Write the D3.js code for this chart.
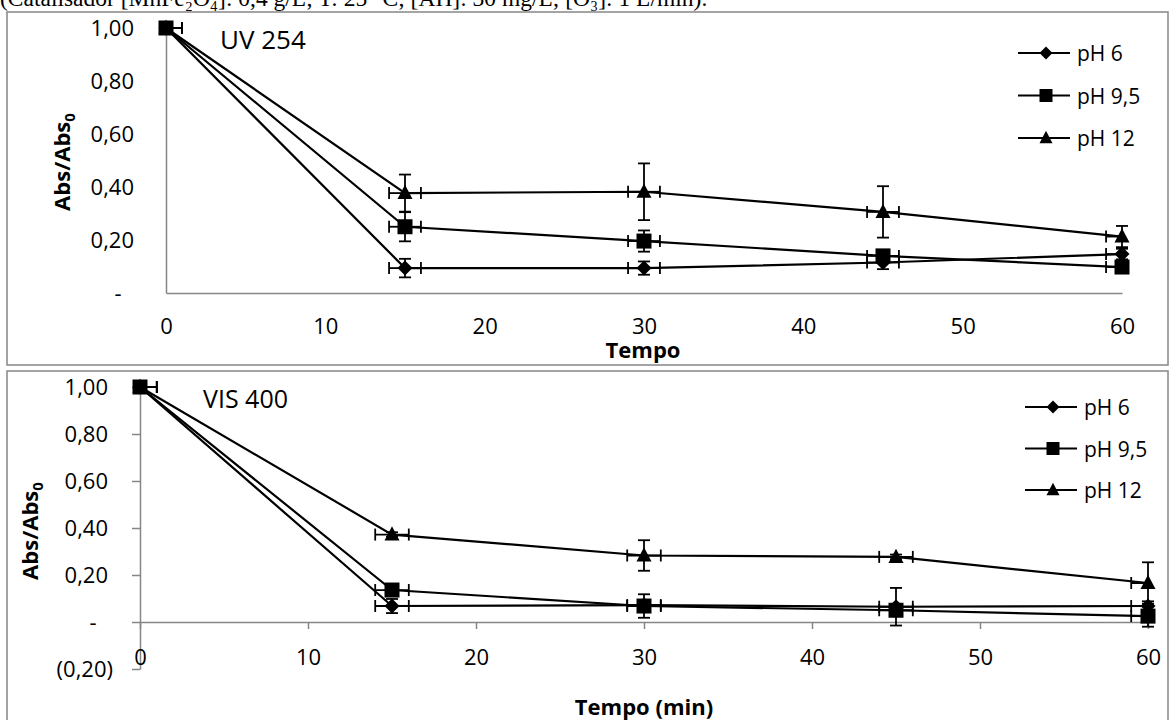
<!DOCTYPE html>
<html>
<head>
<meta charset="utf-8">
<script src="https://cdn.jsdelivr.net/npm/d3@7/dist/d3.min.js"></script>
<style>
  html, body { margin: 0; padding: 0; background: #fff; }
  svg { display: block; }
  text { font-family: "Open Sans", "Noto Sans", sans-serif; fill: #000; }
</style>
</head>
<body>
<svg id="fig" width="1171" height="720"></svg>
<script>
// Sampling times (min)
const times = [0, 15, 30, 45, 60];
const seriesNames = ["pH 6", "pH 9,5", "pH 12"];
const seriesShapes = ["diamond", "square", "triangle"];

// UV 254 — relative absorbance
const uvPH6  = [1.00, 0.094, 0.094, 0.115, 0.147];
const uvPH95 = [1.00, 0.250, 0.196, 0.140, 0.098];
const uvPH12 = [1.00, 0.377, 0.382, 0.306, 0.213];
const uvErrPH6  = [0, 0.035, 0.025, 0.025, 0.020];
const uvErrPH95 = [0, 0.055, 0.040, 0.020, 0.015];
const uvErrPH12 = [0, 0.070, 0.107, 0.097, 0.040];

// VIS 400 — relative absorbance
const visPH6  = [1.00, 0.068, 0.072, 0.065, 0.068];
const visPH95 = [1.00, 0.136, 0.068, 0.050, 0.025];
const visPH12 = [1.00, 0.372, 0.283, 0.277, 0.166];
const visErrPH6  = [0, 0.030, 0.020, 0.080, 0.020];
const visErrPH95 = [0, 0.020, 0.050, 0.020, 0.045];
const visErrPH12 = [0, 0.010, 0.065, 0.010, 0.088];

// time uncertainty (min)
const timeErr = [1, 1, 1, 1, 1];

// axis ticks
const xTicks = [0, 10, 20, 30, 40, 50, 60];
const uvYTicks = [0, 0.2, 0.4, 0.6, 0.8, 1.0];
const visYTicks = [-0.2, 0, 0.2, 0.4, 0.6, 0.8, 1.0];

const headerText = "(Catalisador [MnFe₂O₄]: 0,4 g/L; T: 25 °C; [AH]: 30 mg/L; [O₃]: 1 L/min).";

const svg = d3.select("#fig");
const AXIS = "#868686";

// caption line above the figure
svg.append("text")
  .attr("x", 0).attr("y", 6)
  .style("font-family", "'Liberation Serif', 'Times New Roman', serif")
  .style("font-size", "23.5px")
  .text(headerText);

function fmtTick(v) {
  if (Math.abs(v) < 1e-9) return "-";
  const s = d3.format(".2f")(Math.abs(v)).replace(".", ",");
  return v < 0 ? "(" + s + ")" : s;
}

function markerPath(shape, r) {
  if (shape === "diamond") return `M0,${-r}L${r},0L0,${r}L${-r},0Z`;
  if (shape === "square") return `M${-r},${-r}H${r}V${r}H${-r}Z`;
  const h = r * 1.9;
  return `M0,${-h * 0.58}L${r},${h * 0.42}L${-r},${h * 0.42}Z`;
}

function panel(cfg) {
  const g = svg.append("g");

  // chart frame
  g.append("rect")
    .attr("x", cfg.box[0]).attr("y", cfg.box[1])
    .attr("width", cfg.box[2]).attr("height", cfg.box[3])
    .attr("fill", "#fff").attr("stroke", AXIS).attr("stroke-width", 1.5);

  const x = d3.scaleLinear().domain([0, 60]).range(cfg.xRange);
  const y = d3.scaleLinear().domain(cfg.yDomain).range(cfg.yRange);

  // y axis
  const ya = g.append("g")
    .attr("transform", `translate(${x(0)},0)`)
    .call(d3.axisLeft(y).tickValues(cfg.yTicks).tickFormat(fmtTick)
      .tickSize(cfg.yTickSize).tickSizeOuter(0).tickPadding(cfg.yPad));
  ya.select(".domain").attr("stroke", AXIS).attr("stroke-width", 1.5);
  ya.selectAll(".tick line").attr("stroke", AXIS).attr("stroke-width", 1.5);
  ya.selectAll(".tick text")
    .style("font-size", "22px").attr("dy", "0.36em")
    .each(function (d) {
      const t = d3.select(this);
      if (Math.abs(d) < 1e-9) t.attr("text-anchor", "middle").attr("x", cfg.dashX);
      else if (d < 0) t.attr("x", cfg.negX);
    });

  // x axis (crosses at zero)
  const xa = g.append("g")
    .attr("transform", `translate(0,${y(0)})`)
    .call(d3.axisBottom(x).tickValues(xTicks).tickFormat(d3.format("d"))
      .tickSize(cfg.xTickSize).tickSizeOuter(0).tickPadding(cfg.xPad));
  xa.select(".domain").attr("stroke", AXIS).attr("stroke-width", 1.5);
  xa.selectAll(".tick line").attr("stroke", AXIS).attr("stroke-width", 1.5);
  xa.selectAll(".tick text").style("font-size", "22px");

  // axis titles
  const yt = g.append("text")
    .attr("transform", `translate(${cfg.yTitleX},${cfg.yTitleY}) rotate(-90)`)
    .attr("text-anchor", "middle")
    .style("font-size", "22px").style("font-weight", "bold");
  yt.append("tspan").text("Abs/Abs");
  yt.append("tspan").attr("dy", 5).style("font-size", "15px").text("0");

  g.append("text")
    .attr("x", cfg.xTitleX).attr("y", cfg.xTitleY)
    .attr("text-anchor", "middle")
    .style("font-size", "22px").style("font-weight", "bold")
    .text(cfg.xTitle);

  // panel label
  g.append("text")
    .attr("x", cfg.labelX).attr("y", cfg.labelY)
    .style("font-size", cfg.labelSize + "px")
    .text(cfg.label);

  // clip for error bars along the time axis
  const clipId = "clip-" + cfg.id;
  g.append("clipPath").attr("id", clipId)
    .append("rect")
    .attr("x", x(0)).attr("y", 0)
    .attr("width", x(60) - x(0)).attr("height", 720);

  const line = d3.line().x(d => x(d.t)).y(d => y(d.v));

  cfg.series.forEach((s, i) => {
    const pts = times.map((t, k) => ({ t, v: s.values[k], e: s.err[k], te: timeErr[k] }));
    const sg = g.append("g");

    sg.append("path").datum(pts)
      .attr("d", line)
      .attr("fill", "none").attr("stroke", "#000").attr("stroke-width", 2.2);

    // vertical error bars
    const ve = sg.append("g").attr("stroke", "#000").attr("stroke-width", 1.8);
    pts.filter(p => p.e > 0).forEach(p => {
      const cx = x(p.t), y1 = y(p.v + p.e), y2 = y(p.v - p.e);
      ve.append("line").attr("x1", cx).attr("x2", cx).attr("y1", y1).attr("y2", y2);
      ve.append("line").attr("x1", cx - 6).attr("x2", cx + 6).attr("y1", y1).attr("y2", y1);
      ve.append("line").attr("x1", cx - 6).attr("x2", cx + 6).attr("y1", y2).attr("y2", y2);
    });

    // horizontal (time) error bars
    const he = sg.append("g").attr("clip-path", `url(#${clipId})`)
      .attr("stroke", "#000").attr("stroke-width", 1.8);
    pts.forEach(p => {
      const cy = y(p.v), x1 = x(p.t - p.te), x2 = x(p.t + p.te);
      he.append("line").attr("x1", x1).attr("x2", x2).attr("y1", cy).attr("y2", cy);
      he.append("line").attr("x1", x1).attr("x2", x1).attr("y1", cy - 6).attr("y2", cy + 6);
      he.append("line").attr("x1", x2).attr("x2", x2).attr("y1", cy - 6).attr("y2", cy + 6);
    });

    sg.selectAll("path.mk").data(pts).join("path")
      .attr("class", "mk")
      .attr("transform", p => `translate(${x(p.t)},${y(p.v)})`)
      .attr("d", markerPath(seriesShapes[i], 7.5))
      .attr("fill", "#000");
  });

  // legend
  const lg = g.append("g");
  seriesNames.forEach((name, i) => {
    const ly = cfg.legendY + i * cfg.legendStep;
    lg.append("line")
      .attr("x1", cfg.legendX).attr("x2", cfg.legendX + 52)
      .attr("y1", ly).attr("y2", ly)
      .attr("stroke", "#000").attr("stroke-width", 2.2);
    lg.append("path")
      .attr("transform", `translate(${cfg.legendX + 28},${ly})`)
      .attr("d", markerPath(seriesShapes[i], 6.5))
      .attr("fill", "#000");
    lg.append("text")
      .attr("x", cfg.legendX + 59).attr("y", ly + 8)
      .style("font-size", "21px")
      .text(name);
  });
}

panel({
  id: "uv",
  box: [7, 12, 1161, 353],
  xRange: [166, 1122], yDomain: [0, 1], yRange: [293, 28],
  yTicks: uvYTicks, yTickSize: 0, yPad: 32, dashX: -48, negX: -32,
  xTickSize: 0, xPad: 25,
  yTitleX: 70, yTitleY: 162,
  xTitle: "Tempo", xTitleX: 643, xTitleY: 358,
  label: "UV 254", labelX: 220, labelY: 49, labelSize: 26,
  legendX: 1018, legendY: 53, legendStep: 42.5,
  series: [
    { values: uvPH6, err: uvErrPH6 },
    { values: uvPH95, err: uvErrPH95 },
    { values: uvPH12, err: uvErrPH12 }
  ]
});

panel({
  id: "vis",
  box: [7, 371, 1161, 360],
  xRange: [140, 1148], yDomain: [-0.2, 1], yRange: [669, 387],
  yTicks: visYTicks, yTickSize: 8, yPad: 24, dashX: -47, negX: -27,
  xTickSize: 7, xPad: 20,
  yTitleX: 38, yTitleY: 531,
  xTitle: "Tempo (min)", xTitleX: 644, xTitleY: 715,
  label: "VIS 400", labelX: 203, labelY: 408, labelSize: 25,
  legendX: 1025, legendY: 407, legendStep: 41.5,
  series: [
    { values: visPH6, err: visErrPH6 },
    { values: visPH95, err: visErrPH95 },
    { values: visPH12, err: visErrPH12 }
  ]
});
</script>
</body>
</html>
